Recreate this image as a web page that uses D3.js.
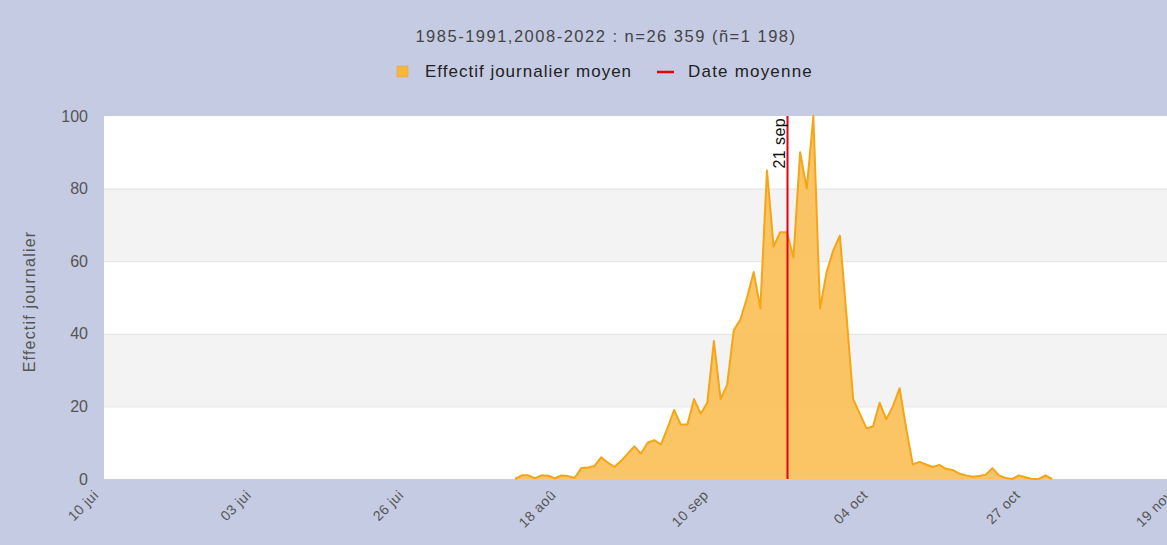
<!DOCTYPE html>
<html>
<head>
<meta charset="utf-8">
<script src="https://cdn.jsdelivr.net/npm/d3@7"></script>
<style>
  html, body { margin: 0; padding: 0; background: #c5cbe3; }
  svg { display: block; font-family: "Liberation Sans", Arial, sans-serif; }
</style>
</head>
<body>
<svg id="chart" width="1167" height="545"></svg>
<script>
// Average daily count, one value per day starting on 11 Aug
const firstDay = "2021-08-11";
const dailyValues = [
  0, 1, 1, 0.2, 1, 0.9, 0.2, 1, 0.8, 0.3,
  3, 3.2, 3.6, 6, 4.5, 3.3, 5, 7, 9, 7,
  10, 10.7, 9.5, 14, 19, 15, 15, 22, 18, 21,
  38, 22, 26, 41, 44, 50, 57, 47, 85, 64,
  68, 68, 61, 90, 80, 100, 47, 57, 63, 67,
  45, 22, 18, 14, 14.5, 21, 16.5, 20, 25, 14,
  4, 4.7, 4, 3.3, 3.9, 2.8, 2.5, 1.5, 1, 0.6,
  0.8, 1.2, 3, 1, 0.3, 0, 1, 0.5, 0, 0,
  1, 0
];

// Axis ticks
const xTickDates  = ["2021-06-10", "2021-07-03", "2021-07-26", "2021-08-18", "2021-09-10", "2021-10-04", "2021-10-27", "2021-11-19"];
const xTickLabels = ["10 jui", "03 jui", "26 jui", "18 aoû", "10 sep", "04 oct", "27 oct", "19 nov"];
const yTicks = [0, 20, 40, 60, 80, 100];

// Mean date marker
const meanDate = "2021-09-21";
const meanLabel = "21 sep";

const titleText = "1985-1991,2008-2022 : n=26 359 (ñ=1 198)";
const legendItems = ["Effectif journalier moyen", "Date moyenne"];
const yTitle = "Effectif journalier";

const parse = d3.utcParse("%Y-%m-%d");
const start = parse(firstDay);
const series = dailyValues.map((v, i) => ({ date: d3.utcDay.offset(start, i), value: v }));

const svg = d3.select("#chart");
const plot = { left: 104, right: 1178, top: 116, bottom: 479 };

const x = d3.scaleUtc()
  .domain([parse(xTickDates[0]), parse(xTickDates[xTickDates.length - 1])])
  .range([plot.left, plot.right]);
const y = d3.scaleLinear().domain([0, 100]).range([plot.bottom, plot.top]);

// Plot background with alternating bands
svg.append("rect")
  .attr("x", plot.left).attr("y", plot.top)
  .attr("width", plot.right - plot.left).attr("height", plot.bottom - plot.top)
  .attr("fill", "#ffffff");

const bandPairs = [[20, 40], [60, 80]];
svg.append("g").selectAll("rect").data(bandPairs).join("rect")
  .attr("x", plot.left)
  .attr("y", d => y(d[1]))
  .attr("width", plot.right - plot.left)
  .attr("height", d => y(d[0]) - y(d[1]))
  .attr("fill", "#f3f3f3");

// Horizontal grid lines
svg.append("g").selectAll("line").data(yTicks.slice(1, -1)).join("line")
  .attr("x1", plot.left).attr("x2", plot.right)
  .attr("y1", d => y(d) + 0.5).attr("y2", d => y(d) + 0.5)
  .attr("stroke", "#e3e3e3").attr("stroke-width", 1);

// Y axis labels
const yAxis = d3.axisLeft(y).tickValues(yTicks).tickSize(0).tickPadding(16);
const gy = svg.append("g").attr("transform", `translate(${plot.left},0)`).call(yAxis);
gy.select(".domain").remove();
gy.selectAll("text")
  .attr("fill", "#555").attr("font-size", "16px")
  .attr("font-family", "Liberation Sans, Arial, sans-serif");

// X axis labels, rotated
const xAxis = d3.axisBottom(x)
  .tickValues(xTickDates.map(parse))
  .tickFormat((d, i) => xTickLabels[i])
  .tickSize(0);
const gx = svg.append("g").attr("transform", `translate(0,${plot.bottom})`).call(xAxis);
gx.select(".domain").remove();
gx.selectAll("text")
  .attr("fill", "#555").attr("font-size", "14px")
  .attr("letter-spacing", "0.5px")
  .attr("font-family", "Liberation Sans, Arial, sans-serif")
  .attr("text-anchor", "end")
  .attr("dy", null).attr("y", 0)
  .attr("transform", "translate(-5,17) rotate(-45)");

// Area + line
const area = d3.area()
  .x(d => x(d.date)).y0(y(0)).y1(d => y(d.value));
const line = d3.line()
  .x(d => x(d.date)).y(d => y(d.value));

svg.append("path").datum(series)
  .attr("d", area)
  .attr("fill", "#fbbf55").attr("fill-opacity", 0.9);
svg.append("path").datum(series)
  .attr("d", line)
  .attr("fill", "none").attr("stroke", "#f5a515").attr("stroke-width", 2)
  .attr("stroke-linejoin", "round");

// Mean date line
const mx = Math.round(x(parse(meanDate))) + 0.5;
svg.append("line")
  .attr("x1", mx).attr("x2", mx)
  .attr("y1", plot.top).attr("y2", plot.bottom)
  .attr("stroke", "#e8000b").attr("stroke-width", 2);
svg.append("text")
  .attr("transform", `translate(${mx - 3},${plot.top + 2}) rotate(-90)`)
  .attr("text-anchor", "end")
  .attr("font-size", "16px").attr("letter-spacing", "0.4px").attr("fill", "#111")
  .text(meanLabel);

// Title
svg.append("text")
  .attr("x", 606).attr("y", 42)
  .attr("text-anchor", "middle")
  .attr("font-size", "16.5px").attr("letter-spacing", "1.5px").attr("fill", "#444")
  .text(titleText);

// Legend
const lg = svg.append("g");
lg.append("rect").attr("x", 397).attr("y", 66).attr("width", 11).attr("height", 11)
  .attr("fill", "#f6b73c").attr("stroke", "#e9a020").attr("stroke-width", 0.5);
lg.append("text").attr("x", 425).attr("y", 77)
  .attr("font-size", "17px").attr("letter-spacing", "1px").attr("fill", "#222").text(legendItems[0]);
lg.append("line").attr("x1", 657).attr("x2", 674).attr("y1", 72).attr("y2", 72)
  .attr("stroke", "#e8000b").attr("stroke-width", 2.5);
lg.append("text").attr("x", 688).attr("y", 77)
  .attr("font-size", "17px").attr("letter-spacing", "1.2px").attr("fill", "#222").text(legendItems[1]);

// Y axis title
svg.append("text")
  .attr("transform", `translate(35,${(plot.top + plot.bottom) / 2 + 4}) rotate(-90)`)
  .attr("text-anchor", "middle")
  .attr("font-size", "16px").attr("letter-spacing", "1.2px").attr("fill", "#555")
  .text(yTitle);
</script>
</body>
</html>
